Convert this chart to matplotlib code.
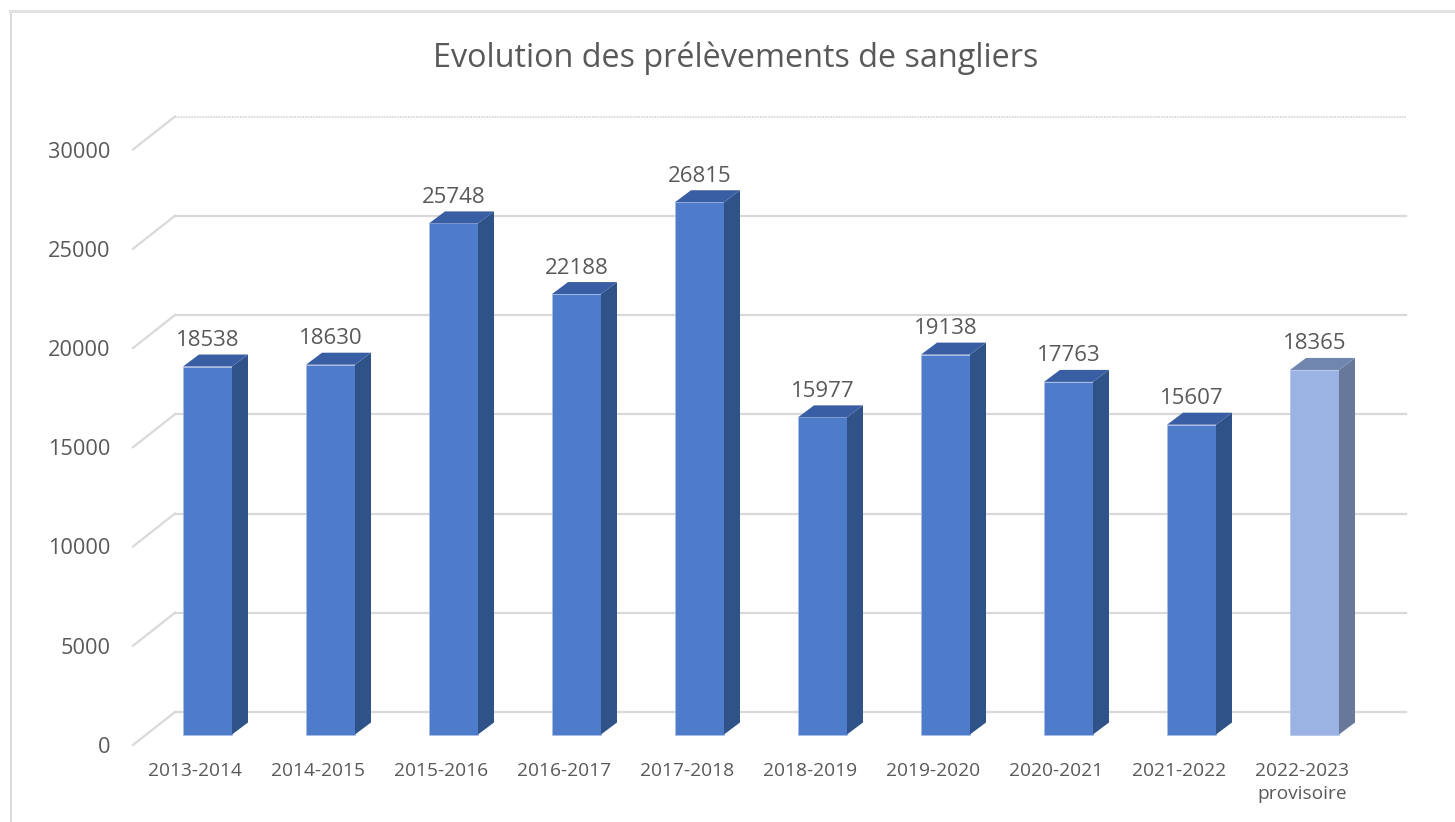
import matplotlib
matplotlib.use("Agg")
import matplotlib.pyplot as plt
from matplotlib.patches import Polygon
from matplotlib.lines import Line2D

seasons = ["2013-2014", "2014-2015", "2015-2016", "2016-2017", "2017-2018",
           "2018-2019", "2019-2020", "2020-2021", "2021-2022", "2022-2023\nprovisoire"]
prelevements = [18538, 18630, 25748, 22188, 26815, 15977, 19138, 17763, 15607, 18365]
y_ticks = [0, 5000, 10000, 15000, 20000, 25000, 30000]
front_colors = ["#4E7BCA"] * 9 + ["#9AB3E2"]
side_colors = ["#2F5289"] * 9 + ["#67789B"]
top_colors = ["#3A5EA3"] * 9 + ["#7186AF"]

W, H = 1455, 822
plt.rcParams["font.family"] = ["Open Sans", "DejaVu Sans"]
TXT = "#595959"
GRID = "#D9D9D9"

fig = plt.figure(figsize=(W / 100, H / 100), dpi=100, facecolor="white")
# front wall of the chart box, pixel frame
L, R, B, T = 133, 1364, 745, 149.5
ax = fig.add_axes([L / W, 1 - B / H, (R - L) / W, (B - T) / H])
px_x = 1 / 123
ax.set_xlim((L - 207.5) * px_x, (R - 207.5) * px_x)
ax.set_ylim(0, 30000)
px_y = 30000 / (B - T)
ax.patch.set_alpha(0)
for s in ax.spines.values():
    s.set_visible(False)

# depth of walls and bars
wall_dx, wall_dy = 42 * px_x, 33 * px_y
bar_dx, bar_dy = 16 * px_x, 12 * px_y
lift = 10.5 * px_y
half = 24.5 * px_x

x0, x1 = ax.get_xlim()
for v in y_ticks:
    is_top = v == y_ticks[-1]
    ax.plot([x0, x0 + wall_dx], [v, v + wall_dy], color=GRID, lw=1.6, clip_on=False, zorder=1)
    ax.plot([x0 + wall_dx, x1 + wall_dx], [v + wall_dy, v + wall_dy], color=GRID,
            lw=1.3 if is_top else 1.6, ls=(0, (1, 0.5)) if is_top else "-",
            clip_on=False, zorder=1)

for i, v in enumerate(prelevements):
    base = lift
    top = v + lift
    ax.bar(i, v, bottom=base, width=2 * half, color=front_colors[i],
           edgecolor="#A9BEE6", linewidth=0.4, zorder=3 + i)
    ax.add_patch(Polygon([(i + half, base), (i + half + bar_dx, base + bar_dy),
                          (i + half + bar_dx, top + bar_dy), (i + half, top)],
                         closed=True, fc=side_colors[i], ec="none", zorder=3 + i, clip_on=False))
    ax.add_patch(Polygon([(i - half, top), (i + half, top),
                          (i + half + bar_dx, top + bar_dy), (i - half + bar_dx, top + bar_dy)],
                         closed=True, fc=top_colors[i], ec="none", zorder=3 + i, clip_on=False))
    ax.text(i + 0.5 * px_x, top + 26 * px_y, str(v), ha="center", va="center",
            fontsize=16, color=TXT, zorder=20)

ax.set_xticks([i - 12.5 * px_x for i in range(len(seasons))])
ax.set_xticklabels(seasons, fontsize=13.8, color=TXT, linespacing=1.4, va="top")
ax.set_yticks(y_ticks)
ax.set_yticklabels([str(v) for v in y_ticks], fontsize=15.7, color=TXT)
ax.tick_params(axis="x", length=0, pad=12)
ax.tick_params(axis="y", length=0, pad=16)

fig.text(736 / W, 1 - 58 / H, "Evolution des prélèvements de sangliers", ha="center",
         va="center", fontsize=23.3, color=TXT)

# outer chart frame
fig.add_artist(Line2D([10.5 / W, 10.5 / W], [0, 1 - 11 / H], color="#DADADA", lw=1.4))
fig.add_artist(Line2D([10 / W, 1], [1 - 11.5 / H, 1 - 11.5 / H], color="#E2E2E2", lw=2.2))

fig.savefig("out.png", dpi=100, facecolor="white")
